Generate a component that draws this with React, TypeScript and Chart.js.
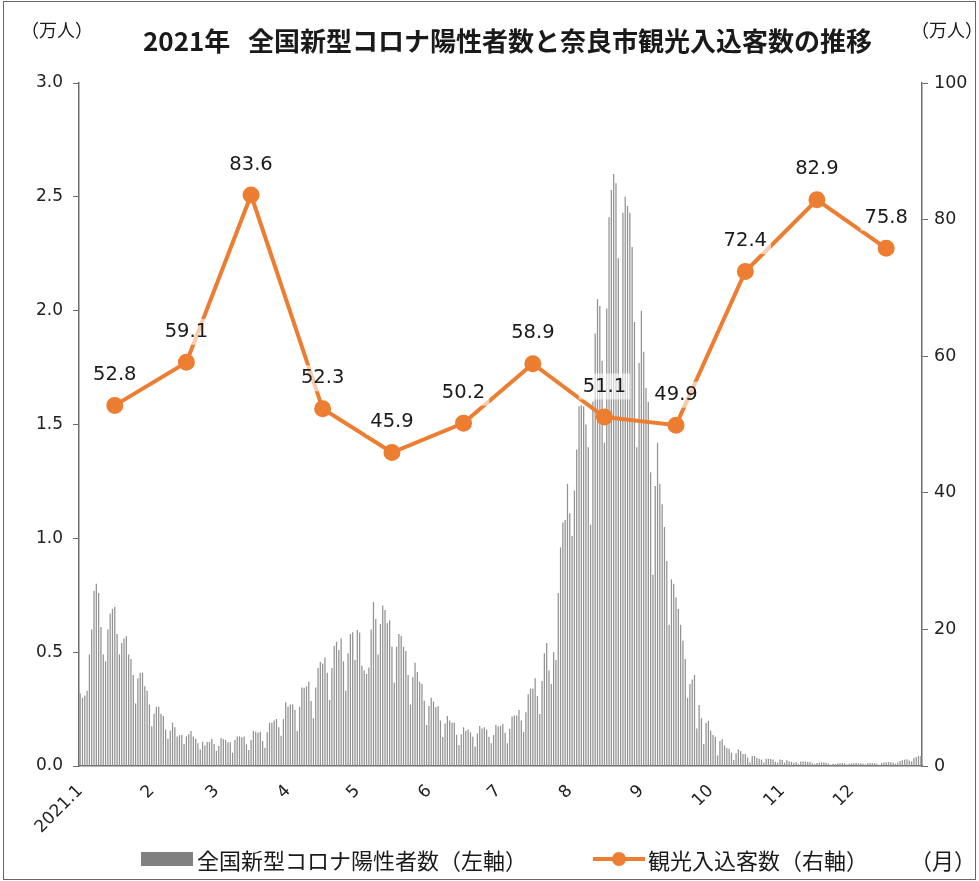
import React, { useEffect, useRef } from 'react';
import { Chart, registerables } from 'chart.js';

Chart.register(...registerables);

// Daily new positive cases in Japan (万人)
const jan = [0.32, 0.30, 0.31, 0.33, 0.49, 0.60, 0.77, 0.80, 0.76, 0.61, 0.49, 0.46, 0.60, 0.67, 0.69, 0.70, 0.58, 0.49, 0.54, 0.56, 0.57, 0.49, 0.47, 0.40, 0.275, 0.385, 0.41, 0.41, 0.35, 0.33, 0.27];
const feb = [0.175, 0.23, 0.26, 0.26, 0.23, 0.22, 0.16, 0.12, 0.155, 0.19, 0.17, 0.13, 0.135, 0.136, 0.097, 0.13, 0.14, 0.154, 0.13, 0.12, 0.10, 0.073, 0.107, 0.09, 0.105, 0.105, 0.12, 0.097];
const mar = [0.067, 0.088, 0.123, 0.117, 0.114, 0.104, 0.104, 0.059, 0.114, 0.13, 0.13, 0.126, 0.13, 0.095, 0.07, 0.114, 0.154, 0.15, 0.146, 0.15, 0.11, 0.08, 0.148, 0.19, 0.19, 0.20, 0.206, 0.17, 0.133, 0.206, 0.28];
const apr = [0.26, 0.27, 0.27, 0.246, 0.154, 0.26, 0.345, 0.344, 0.35, 0.37, 0.285, 0.21, 0.345, 0.43, 0.457, 0.45, 0.477, 0.41, 0.29, 0.43, 0.527, 0.546, 0.51, 0.56, 0.46, 0.33, 0.495, 0.58, 0.587, 0.466];
const may = [0.597, 0.586, 0.44, 0.42, 0.404, 0.433, 0.60, 0.72, 0.646, 0.49, 0.624, 0.705, 0.685, 0.627, 0.64, 0.524, 0.366, 0.524, 0.58, 0.571, 0.524, 0.505, 0.40, 0.27, 0.39, 0.454, 0.413, 0.37, 0.36, 0.287, 0.18];
const jun = [0.264, 0.30, 0.283, 0.258, 0.264, 0.20, 0.127, 0.187, 0.22, 0.20, 0.19, 0.19, 0.137, 0.092, 0.14, 0.17, 0.154, 0.16, 0.148, 0.129, 0.085, 0.143, 0.176, 0.165, 0.17, 0.16, 0.129, 0.10, 0.136, 0.18];
const jul = [0.173, 0.176, 0.184, 0.146, 0.10, 0.164, 0.217, 0.222, 0.222, 0.246, 0.20, 0.15, 0.236, 0.315, 0.34, 0.34, 0.385, 0.307, 0.228, 0.373, 0.495, 0.54, 0.42, 0.36, 0.50, 0.466, 0.76, 0.96, 1.07, 1.08, 1.24];
const aug = [1.11, 1.01, 1.21, 1.39, 1.58, 1.585, 1.58, 1.50, 1.40, 1.06, 1.60, 1.90, 2.05, 2.02, 1.78, 1.42, 2.01, 2.41, 2.53, 2.60, 2.56, 2.23, 1.70, 2.43, 2.50, 2.46, 2.43, 2.28, 1.95, 1.40, 1.77];
const sep = [2.0, 1.82, 1.66, 1.60, 1.29, 0.84, 1.23, 1.42, 1.24, 1.15, 1.05, 0.90, 0.62, 0.82, 0.80, 0.74, 0.69, 0.62, 0.55, 0.47, 0.30, 0.36, 0.38, 0.40, 0.165, 0.268, 0.21, 0.097, 0.19, 0.198];
const oct = [0.155, 0.136, 0.129, 0.047, 0.11, 0.117, 0.09, 0.079, 0.076, 0.059, 0.026, 0.056, 0.073, 0.066, 0.053, 0.053, 0.037, 0.016, 0.044, 0.044, 0.035, 0.032, 0.028, 0.015, 0.032, 0.031, 0.031, 0.029, 0.019, 0.015, 0.029];
const nov = [0.026, 0.015, 0.025, 0.02, 0.018, 0.013, 0.016, 0.009, 0.02, 0.02, 0.02, 0.018, 0.018, 0.012, 0.008, 0.013, 0.015, 0.016, 0.015, 0.014, 0.011, 0.006, 0.01, 0.009, 0.012, 0.012, 0.013, 0.012, 0.007, 0.01];
const dec = [0.012, 0.012, 0.013, 0.012, 0.012, 0.01, 0.007, 0.012, 0.013, 0.012, 0.012, 0.01, 0.006, 0.013, 0.015, 0.016, 0.017, 0.017, 0.014, 0.01, 0.015, 0.022, 0.025, 0.028, 0.03, 0.024, 0.02, 0.035, 0.04, 0.044, 0.044];

const dailyByMonth = [jan, feb, mar, apr, may, jun, jul, aug, sep, oct, nov, dec];

// Monthly tourist visitors to Nara city (万人)
const tourists = [52.8, 59.1, 83.6, 52.3, 45.9, 50.2, 58.9, 51.1, 49.9, 72.4, 82.9, 75.8];

// x-axis month tick labels
const monthTickLabels = ['2021.1', '2', '3', '4', '5', '6', '7', '8', '9', '10', '11', '12'];

const leftTicks = [0, 0.5, 1.0, 1.5, 2.0, 2.5, 3.0];
const rightTicks = [0, 20, 40, 60, 80, 100];

const W = 979;
const H = 881;
const PLOT_LEFT = 79;
const PLOT_RIGHT = 922;
const PLOT_TOP = 83;
const PLOT_BOTTOM = 766;

const tickFont = '"DejaVu Sans", Verdana, sans-serif';
const jpFont = '"Noto Sans CJK JP", "Noto Sans", sans-serif';

const valueLabels = {
  id: 'valueLabels',
  afterDatasetsDraw(chart: any) {
    const meta = chart.getDatasetMeta(1);
    const data = chart.data.datasets[1].data;
    const ctx = chart.ctx;
    ctx.save();
    ctx.font = '19.5px ' + tickFont;
    ctx.textAlign = 'center';
    ctx.textBaseline = 'middle';
    meta.data.forEach((pt: any, i: number) => {
      const v = data[i];
      if (v === null || v === undefined) return;
      const text = Number(v).toFixed(1);
      const w = ctx.measureText(text).width + 8;
      const x = pt.x;
      const y = pt.y - 30.5;
      ctx.fillStyle = 'rgba(255,255,255,0.6)';
      ctx.fillRect(x - w / 2, y - 13, w, 26);
      ctx.fillStyle = '#1a1a1a';
      ctx.fillText(text, x, y);
    });
    ctx.restore();
  },
};

export default function App() {
  const canvasRef = useRef<HTMLCanvasElement | null>(null);

  useEffect(() => {
    if (!canvasRef.current) return;
    const labels: string[] = [];
    const bars: number[] = [];
    const line: (number | null)[] = [];
    const monthStart: Record<number, string> = {};
    dailyByMonth.forEach((days, m) => {
      monthStart[labels.length] = monthTickLabels[m];
      days.forEach((v, d) => {
        labels.push(`${m + 1}/${d + 1}`);
        bars.push(v);
        line.push(d === 15 ? tourists[m] : null);
      });
    });

    const chart = new Chart(canvasRef.current, {
      type: 'bar',
      data: {
        labels,
        datasets: [
          {
            type: 'bar',
            label: '全国新型コロナ陽性者数（左軸）',
            data: bars,
            yAxisID: 'y',
            backgroundColor: '#939393',
            barPercentage: 0.55,
            categoryPercentage: 1,
            order: 2,
          } as any,
          {
            type: 'line',
            label: '観光入込客数（右軸）',
            data: line,
            yAxisID: 'y1',
            borderColor: '#ED7D31',
            backgroundColor: '#ED7D31',
            borderWidth: 4,
            pointRadius: 6.5,
            pointBackgroundColor: '#ED7D31',
            pointBorderColor: '#ED7D31',
            spanGaps: true,
            order: 1,
          } as any,
        ],
      },
      options: {
        responsive: false,
        animation: false,
        devicePixelRatio: 1,
        layout: { padding: { top: PLOT_TOP, left: 0, right: 0, bottom: 0 } },
        plugins: {
          legend: { display: false },
          title: { display: false },
          tooltip: { enabled: false },
        },
        scales: {
          x: {
            type: 'category',
            offset: true,
            grid: { display: false },
            border: { display: true, color: '#6d6d6d', width: 1.5 },
            ticks: {
              autoSkip: false,
              minRotation: 45,
              maxRotation: 45,
              padding: 7,
              color: '#222',
              font: { family: tickFont, size: 17 },
              callback: (_v: any, idx: number) => (monthStart[idx] !== undefined ? monthStart[idx] : ''),
            },
            afterFit: (s: any) => {
              s.height = H - PLOT_BOTTOM;
            },
          },
          y: {
            position: 'left',
            min: 0,
            max: 3,
            grid: { display: true, drawOnChartArea: false, drawTicks: true, tickLength: 6, color: '#6d6d6d' },
            border: { display: true, color: '#6d6d6d', width: 1.5 },
            afterBuildTicks: (s: any) => {
              s.ticks = leftTicks.map((v) => ({ value: v }));
            },
            ticks: {
              padding: 10,
              color: '#222',
              font: { family: tickFont, size: 17 },
              callback: (v: any) => Number(v).toFixed(1),
            },
            afterFit: (s: any) => {
              s.width = PLOT_LEFT;
            },
          },
          y1: {
            position: 'right',
            min: 0,
            max: 100,
            grid: { display: true, drawOnChartArea: false, drawTicks: true, tickLength: 6, color: '#6d6d6d' },
            border: { display: true, color: '#6d6d6d', width: 1.5 },
            afterBuildTicks: (s: any) => {
              s.ticks = rightTicks.map((v) => ({ value: v }));
            },
            ticks: {
              padding: 6,
              color: '#222',
              font: { family: tickFont, size: 17.5 },
              callback: (v: any) => String(v),
            },
            afterFit: (s: any) => {
              s.width = W - PLOT_RIGHT;
            },
          },
        },
      } as any,
      plugins: [valueLabels],
    });
    return () => chart.destroy();
  }, []);

  const textBase: React.CSSProperties = {
    position: 'absolute',
    fontFamily: jpFont,
    color: '#1a1a1a',
    whiteSpace: 'nowrap',
  };

  return (
    <div style={{ position: 'absolute', left: 0, top: 0, width: W, height: H, background: '#fff', overflow: 'hidden' }}>
      <canvas ref={canvasRef} width={W} height={H} style={{ position: 'absolute', left: 0, top: 0, width: W, height: H, display: 'block' }} />
      <div style={{ position: 'absolute', left: 3, top: 1, width: W - 8, height: H - 4, border: '1.5px solid #666', pointerEvents: 'none' }} />
      <div style={{ ...textBase, left: 21, top: 17, fontSize: 18, lineHeight: '24px' }}>（万人）</div>
      <div style={{ ...textBase, left: 911, top: 17, fontSize: 18, lineHeight: '24px' }}>（万人）</div>
      <div style={{ ...textBase, left: 0, width: 1015, top: 25, textAlign: 'center', fontSize: 26, fontWeight: 700, lineHeight: '30px' }}>
        2021年&nbsp;&nbsp;&nbsp;全国新型コロナ陽性者数と奈良市観光入込客数の推移
      </div>
      <div style={{ position: 'absolute', left: 141, top: 852, width: 52, height: 14, background: '#808080' }} />
      <div style={{ ...textBase, left: 197, top: 846, fontSize: 22, lineHeight: '26px' }}>全国新型コロナ陽性者数（左軸）</div>
      <div style={{ position: 'absolute', left: 593, top: 857, width: 52, height: 4, background: '#ED7D31' }} />
      <div style={{ position: 'absolute', left: 612, top: 852, width: 14, height: 14, borderRadius: 7, background: '#ED7D31' }} />
      <div style={{ ...textBase, left: 648, top: 846, fontSize: 22, lineHeight: '26px' }}>観光入込客数（右軸）</div>
      <div style={{ ...textBase, left: 910, top: 846, fontSize: 22, lineHeight: '26px' }}>（月）</div>
    </div>
  );
}
